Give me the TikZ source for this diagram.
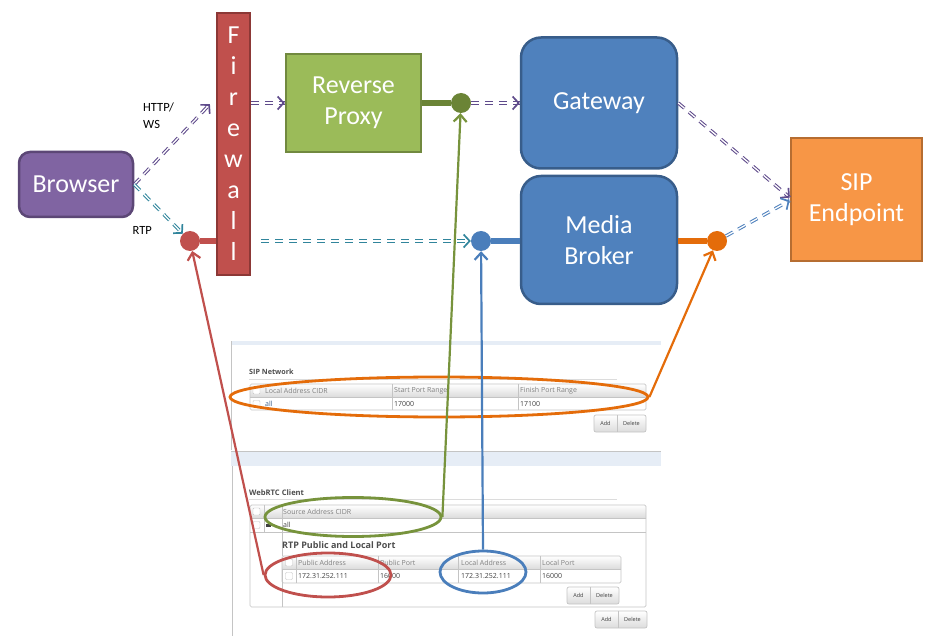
\documentclass[tikz,border=0pt]{standalone}
\usepackage{fontspec}
\setmainfont{Carlito}
\newfontfamily\uifont{Open Sans}
\usetikzlibrary{positioning,arrows.meta,decorations.markings,shapes.geometric}

\definecolor{brwfill}{HTML}{8064A2}
\definecolor{brwline}{HTML}{5C4776}
\definecolor{fwfill}{HTML}{C0504D}
\definecolor{fwline}{HTML}{8C3836}
\definecolor{rpfill}{HTML}{9BBB59}
\definecolor{rpline}{HTML}{71893F}
\definecolor{gwfill}{HTML}{4F81BD}
\definecolor{gwline}{HTML}{385D8A}
\definecolor{sipfill}{HTML}{F79646}
\definecolor{sipline}{HTML}{B66D31}
\definecolor{flowpurple}{HTML}{5F4B8B}
\definecolor{flowteal}{HTML}{31859C}
\definecolor{flowblue}{HTML}{4F81BD}
\definecolor{hlred}{HTML}{C0504D}
\definecolor{hlgreen}{HTML}{77933C}
\definecolor{hlblue}{HTML}{4A7EBB}
\definecolor{hlorange}{HTML}{E46C0A}
\definecolor{uigray}{HTML}{808080}
\definecolor{uitext}{HTML}{404040}
\definecolor{uidark}{HTML}{4D4D4D}
\definecolor{uiline}{HTML}{C4C4C4}
\definecolor{uiband}{HTML}{E6EDF6}

\begin{document}
\begin{tikzpicture}[x=1pt, y=-1pt,
  block/.style={draw, line width=2.5pt, text=white, align=center, inner sep=0pt,
    font=\fontsize{26}{31}\selectfont},
  dot/.style={circle, fill=#1, minimum size=20pt, inner sep=0pt},
  link/.style={draw=#1, line width=6.5pt},
  flow/.style={draw=#1, line width=3.4pt, dash pattern=on 8pt off 6pt,
    postaction={draw=white, line width=1.3pt, dash pattern=on 8pt off 6pt},
    postaction={decorate, decoration={markings, mark=at position 1 with
      {\arrow[color=#1, line width=1.7pt]{Straight Barb[length=6pt,width=13pt]}}}}},
  oval/.style={ellipse, draw=#1, line width=2.8pt, inner sep=0pt},
  pointer/.style={draw=#1, line width=2.2pt, -{Straight Barb[length=7pt,width=13pt]}},
  lbl/.style={font=\fontsize{12.5}{17}\selectfont, align=left, anchor=west, inner sep=0pt},
  uitxt/.style={font=\uifont\fontsize{7}{8}\selectfont, text=uitext, anchor=west, inner sep=0pt},
  uihead/.style={uitxt, text=uigray},
  uititle/.style={font=\uifont\bfseries\fontsize{7.2}{8}\selectfont, text=uidark, anchor=west, inner sep=0pt},
  uibox/.style={draw=uiline, line width=0.7pt},
  tick/.style={draw=uiline, fill=white, rounded corners=1pt, minimum size=7pt, inner sep=0pt},
  uibtn/.style={font=\uifont\fontsize{5.5}{6}\selectfont, text=uitext, inner sep=0pt}
]
\useasboundingbox (0,0) rectangle (929,636);

% screenshot of the settings page
\fill[uiband] (231,341) rectangle (661,345);
\draw[uiline] (231,341) -- (231,450);
\fill[uiband] (231,451) rectangle (661,466);
\draw[uiline] (231,451) -- (661,451);
\draw[uiline] (232,466) -- (232,636);

% SIP Network table
\node[uititle] (sipttl) at (249,372) {SIP Network};
\draw[uiline!60] (249,379.5) -- (617,379.5);
\shade[top color=white, bottom color=black!14] (250,384) rectangle (646,397);
\draw[uibox, rounded corners=1.5pt] (250,384) rectangle (646,410);
\draw[uibox] (250,397) -- (646,397) (392,384) -- (392,410) (518,384) -- (518,410);
\node[uihead] (h1) at (265,390.5) {Local Address CIDR};
\node[uihead] (h2) at (394,390.5) {Start Port Range};
\node[uihead] (h3) at (520,390.5) {Finish Port Range};
\node[uitxt, text=gwline] (c1) at (265,404) {all};
\node[uitxt] (c2) at (394,404) {17000};
\node[uitxt] (c3) at (520,404) {17100};

% WebRTC Client table
\node[uititle, font=\uifont\bfseries\fontsize{7.6}{9}\selectfont] (webttl) at (249,493) {WebRTC Client};
\draw[uiline!60] (249,499) -- (617,499);
\shade[top color=white, bottom color=black!14] (250,505) rectangle (646,518);
\draw[uibox, rounded corners=1.5pt] (250,505) rectangle (646,607);
\draw[uibox] (250,518) -- (646,518) (250,532) -- (646,532)
  (264,505) -- (264,532) (282,505) -- (282,607);
\fill[uitext] (266,524) rectangle (271,527);
\node[uihead] (h4) at (283,511.5) {Source Address CIDR};
\node[uitxt] (c4) at (283,525) {all};
\node[uititle, font=\uifont\bfseries\fontsize{9}{10}\selectfont] (rtpttl) at (282,545) {RTP Public and Local Port};
\shade[top color=white, bottom color=black!14] (282,556) rectangle (621,569);
\draw[uibox, rounded corners=1.5pt] (282,556) rectangle (621,583);
\draw[uibox] (282,569) -- (621,569) (296,556) -- (296,583) (378,556) -- (378,583)
  (458,556) -- (458,583) (540,556) -- (540,583);
\node[uihead] (h5) at (298,562.5) {Public Address};
\node[uihead] (h6) at (380,562.5) {Public Port};
\node[uihead] (h7) at (461,562.5) {Local Address};
\node[uihead] (h8) at (542,562.5) {Local Port};
\node[uitxt] (c5) at (298,576) {172.31.252.111};
\node[uitxt] (c6) at (380,576) {16000};
\node[uitxt] (c7) at (461,576) {172.31.252.111};
\node[uitxt] (c8) at (542,576) {16000};

% check boxes and buttons
\foreach \cx/\cy in {256.5/390.5, 256.5/404, 256.5/511.5, 256.5/525, 289/562.5, 289/576}
  \node[tick] (tick\cx\cy) at (\cx,\cy) {};
\foreach \bx/\by in {594/415, 567/587, 595/611} {
  \draw[uibox, rounded corners=2pt, top color=white, bottom color=black!14] (\bx,\by) rectangle (\bx+52,\by+17);
  \draw[uibox] (\bx+23,\by) -- (\bx+23,\by+17);
  \node[uibtn] (add\bx) at (\bx+11.5,\by+8.5) {Add};
  \node[uibtn] (del\bx) at (\bx+37.5,\by+8.5) {Delete};
}

% Blocks
\node[block, fill=brwfill, draw=brwline, rounded corners=11pt, minimum width=114pt, minimum height=65pt] (brw) at (76,184.5) {Browser};
\node[block, fill=fwfill, draw=fwline, minimum width=33pt, minimum height=262pt] (fw) at (233.5,144) {};
\foreach \ch [count=\i] in {F,i,r,e,w,a,l,l}
  \node[text=white, font=\fontsize{26}{31}\selectfont, anchor=base, inner sep=0pt] (fw\i) at (233.5,44+31*\i-31) {\ch};
\node[block, fill=rpfill, draw=rpline, minimum width=135pt, minimum height=98pt] (rp) at (353.5,103) {Reverse\\Proxy};
\node[block, fill=gwfill, draw=gwline, rounded corners=20pt, minimum width=156pt, minimum height=131pt] (gw) at (599,103) {Gateway};
\node[block, fill=gwfill, draw=gwline, rounded corners=20pt, minimum width=156pt, minimum height=128pt] (mb) at (599,240) {Media\\Broker};
\node[block, fill=sipfill, draw=sipline, minimum width=131pt, minimum height=123pt] (sip) at (856.5,199.5) {SIP\\Endpoint};

% Ports
\node[dot=hlgreen!90!black] (gdot) at (461,103) {};
\node[dot=hlred] (rdot) at (190,241) {};
\node[dot=hlblue] (bdot) at (481,241) {};
\node[dot=hlorange] (odot) at (717,241) {};
\draw[link=hlgreen!90!black] (rp.east) -- (gdot);
\draw[link=hlred] (rdot) -- (fw.west |- rdot);
\draw[link=hlblue] (bdot) -- (mb.west |- bdot);
\draw[link=hlorange] (mb.east |- odot) -- (odot);

% Flows
\coordinate (httpin) at (210,104);
\node[lbl] (httplbl) at (143,116) {HTTP/\\WS};
\node[lbl] (rtplbl) at (132.5,230) {RTP};
\draw[flow=flowpurple] (brw.east) -- (httpin);
\draw[flow=flowpurple] (fw.east |- rp.west) -- (rp.west);
\draw[flow=flowpurple] (gdot) -- (gw.west);
\draw[flow=flowpurple] (gw.east) -- ([yshift=2pt]sip.west);
\draw[flow=flowteal] (brw.east) -- (rdot);
\draw[flow=flowteal, shorten <=10pt] (fw.east |- bdot) -- (bdot);
\draw[flow=flowblue] (odot) -- ([yshift=-1pt]sip.west);

% Highlights
\node[oval=hlorange, minimum width=418pt, minimum height=40pt] (sipoval) at (439,397) {};
\node[oval=hlgreen, minimum width=176pt, minimum height=39pt] (srcoval) at (353,517) {};
\node[oval=hlred, minimum width=126pt, minimum height=44pt] (puboval) at (328,575) {};
\node[oval=hlblue, minimum width=86pt, minimum height=42pt] (locoval) at (483,572) {};
\draw[pointer=hlorange] (sipoval.east) -- (odot);
\draw[pointer=hlgreen] (srcoval.east) -- (gdot);
\draw[pointer=hlred] (puboval.west) -- (rdot);
\draw[pointer=hlblue] (locoval.north) -- (bdot);

\end{tikzpicture}
\end{document}
